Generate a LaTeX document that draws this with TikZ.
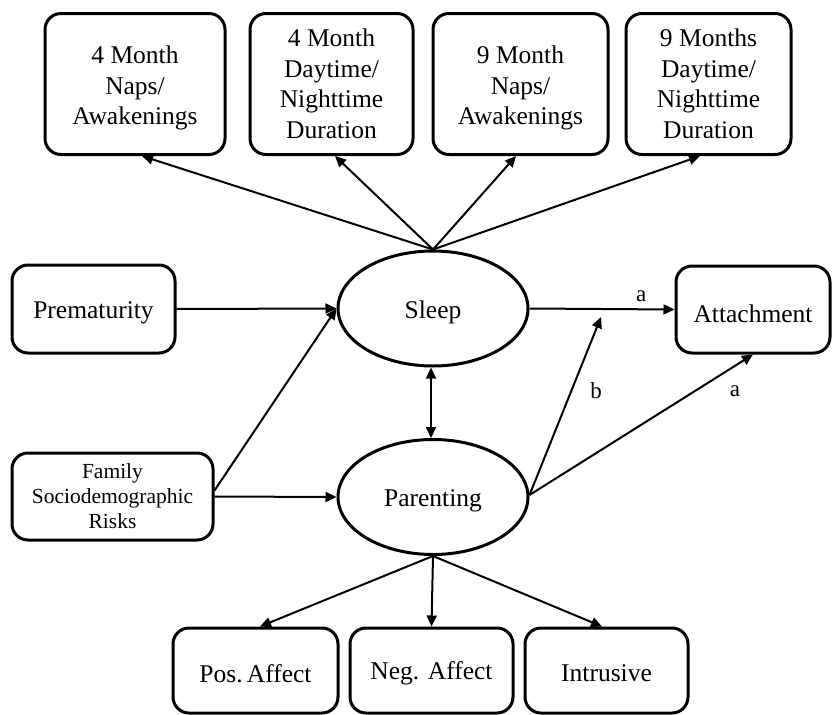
\documentclass[tikz,border=0pt]{standalone}
\usepackage{fontspec}
\setmainfont{Liberation Serif}
\usetikzlibrary{shapes.geometric,arrows.meta}
\newcommand{\dn}[2]{\raisebox{-#1}[\height][\depth]{#2}}
\begin{document}
\begin{tikzpicture}[x=1pt,y=-1pt,
  box/.style={draw,line width=3pt,rounded corners=16pt,align=center,inner sep=0pt,
    font=\fontsize{25.5}{30.5}\selectfont},
  oval/.style={draw,ellipse,line width=3pt,inner sep=0pt,minimum width=190pt,minimum height=115pt,
    font=\fontsize{25.5}{30.5}\selectfont},
  arr/.style={line width=2pt,-{Triangle[length=11pt,width=10pt]}},
  lab/.style={font=\fontsize{23}{27}\selectfont}]
\useasboundingbox (0,0) rectangle (833,715);
\node[box,minimum width=180pt,minimum height=141pt] (b1) at (135,84) {\dn{4pt}{\parbox{170pt}{\centering 4 Month\\Naps/\\Awakenings}}};
\node[box,minimum width=163pt,minimum height=141pt] (b2) at (331.5,84) {4 Month\\Daytime/\\Nighttime\\Duration};
\node[box,minimum width=175pt,minimum height=141pt] (b3) at (520.5,84) {\dn{4pt}{\parbox{165pt}{\centering 9 Month\\Naps/\\Awakenings}}};
\node[box,minimum width=165pt,minimum height=141pt] (b4) at (708.5,84) {9 Months\\Daytime/\\Nighttime\\Duration};
\node[box,minimum width=163pt,minimum height=88pt] (pre) at (93.5,309) {\dn{4pt}{Prematurity}};
\node[box,minimum width=201pt,minimum height=87pt,font=\fontsize{21.5}{25}\selectfont] (fam) at (112.5,496.5) {Family\\Sociodemographic\\Risks};
\node[box,minimum width=154pt,minimum height=87pt] (att) at (753,309.5) {\dn{4pt}{Attachment}};
\node[oval] (sleep) at (433,308.5) {\dn{4pt}{Sleep}};
\node[oval] (par) at (433,497) {\dn{4pt}{Parenting}};
\node[box,minimum width=165pt,minimum height=85pt] (pos) at (255.5,670.5) {\dn{3pt}{Pos.\,Affect}};
\node[box,minimum width=163pt,minimum height=85pt] (neg) at (431.5,670.5) {\dn{3pt}{Neg. Affect}};
\node[box,minimum width=163pt,minimum height=85pt] (intr) at (606.5,670.5) {\dn{3pt}{Intrusive}};
\coordinate (bm) at (601,317);
\draw[arr] (sleep.north) -- ([xshift=7pt]b1.south);
\draw[arr] (sleep.north) -- ([xshift=3.5pt]b2.south);
\draw[arr] (sleep.north) -- ([xshift=-4.5pt]b3.south);
\draw[arr] (sleep.north) -- ([xshift=-8.5pt]b4.south);
\draw[arr] (pre.east) -- (sleep.west);
\draw[arr] ([yshift=6pt]fam.east) -- (sleep.west);
\draw[arr] (fam.east) -- (par.west);
\draw[line width=2pt,{Triangle[length=11pt,width=10pt]}-{Triangle[length=11pt,width=10pt]}] ([xshift=-2pt]sleep.south) -- ([xshift=-2pt]par.north);
\draw[arr] (sleep.east) -- (att.west) node[lab,pos=0.77,above=3pt] {a};
\draw[arr] ([yshift=2pt]par.east) -- (bm);
\draw[arr] ([yshift=2pt]par.east) -- (att.south);
\node[lab] (la) at (735,391) {a};
\node[lab] (lb) at (596,391) {b};
\draw[arr] (par.south) -- ([xshift=4.5pt]pos.north);
\draw[arr] (par.south) -- (neg.north);
\draw[arr] (par.south) -- ([xshift=-4.5pt]intr.north);
\end{tikzpicture}
\end{document}
